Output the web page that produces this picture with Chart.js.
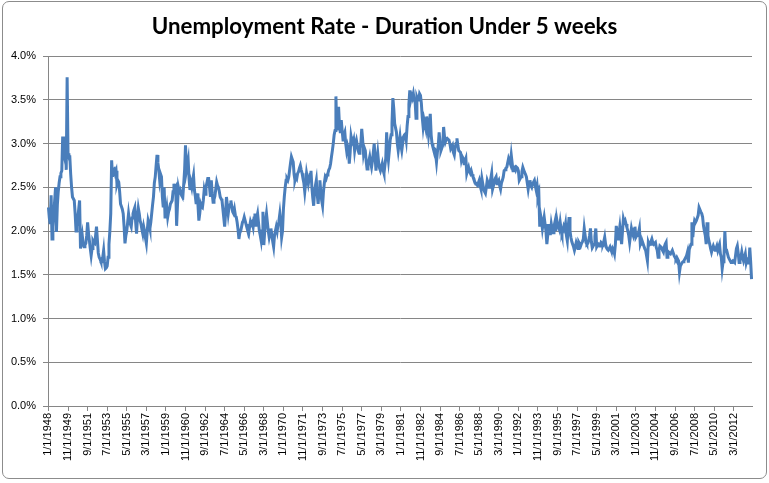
<!DOCTYPE html>
<html>
<head>
<meta charset="utf-8">
<title>Unemployment Rate - Duration Under 5 weeks</title>
<script src="https://cdn.jsdelivr.net/npm/chart.js@4.4.1/dist/chart.umd.min.js"></script>
<style>
  html, body { margin: 0; padding: 0; background: #fff; }
  #wrap { position: relative; width: 769px; height: 483px; }
  #frame { position: absolute; left: 2px; top: 1px; width: 763px; height: 476px;
           border: 1px solid #8c8c8c; border-radius: 7px; pointer-events: none; }
  canvas { position: absolute; left: 0; top: 0; }
</style>
</head>
<body>
<div id="wrap">
  <canvas id="grafico" width="769" height="483"></canvas>
  <div id="frame"></div>
</div>
<script>
// Monthly rate (%), Jan 1948 onward, one line per year
const rate = [
  2.27, 2.15, 2.08, 2.41, 1.91, 2.05, 2.20, 2.35, 2.50, 1.99, 2.30, 2.45, // 1948
  2.55, 2.62, 2.66, 2.69, 3.08, 2.90, 2.85, 3.08, 2.70, 3.76, 2.89, 2.85, // 1949
  2.85, 2.65, 2.50, 2.39, 2.37, 2.35, 2.20, 2.00, 2.05, 2.15, 2.25, 2.35, // 1950
  1.80, 1.88, 1.95, 1.85, 1.82, 1.84, 1.86, 1.95, 2.10, 1.98, 1.89, 1.80, // 1951
  1.72, 1.80, 1.89, 1.87, 1.86, 1.95, 2.05, 1.90, 1.75, 1.70, 1.68, 1.65, // 1952
  1.65, 1.70, 1.78, 1.65, 1.57, 1.58, 1.60, 1.70, 1.85, 2.00, 2.20, 2.81, // 1953
  2.62, 2.70, 2.71, 2.66, 2.69, 2.54, 2.58, 2.56, 2.45, 2.31, 2.28, 2.25, // 1954
  2.20, 2.05, 1.86, 1.95, 2.00, 2.10, 2.20, 2.12, 2.08, 2.05, 2.15, 2.20, // 1955
  2.24, 2.27, 2.10, 1.97, 2.15, 2.26, 2.20, 2.12, 2.08, 2.02, 1.97, 2.05, // 1956
  2.00, 1.92, 1.86, 2.00, 2.12, 2.08, 2.03, 2.10, 2.20, 2.30, 2.39, 2.55, // 1957
  2.62, 2.75, 2.87, 2.78, 2.70, 2.58, 2.65, 2.62, 2.39, 2.27, 2.50, 2.16, // 1958
  2.20, 2.27, 2.16, 2.22, 2.25, 2.31, 2.33, 2.35, 2.45, 2.54, 2.48, 2.50, // 1959
  2.06, 2.30, 2.50, 2.45, 2.47, 2.42, 2.40, 2.39, 2.54, 2.70, 2.98, 2.69, // 1960
  2.75, 2.81, 2.60, 2.47, 2.55, 2.50, 2.58, 2.64, 2.47, 2.40, 2.31, 2.43, // 1961
  2.30, 2.12, 2.20, 2.31, 2.28, 2.27, 2.35, 2.47, 2.42, 2.50, 2.55, 2.60, // 1962
  2.60, 2.50, 2.39, 2.58, 2.43, 2.33, 2.36, 2.40, 2.48, 2.56, 2.52, 2.50, // 1963
  2.45, 2.39, 2.37, 2.35, 2.25, 2.15, 2.05, 2.20, 2.39, 2.30, 2.20, 2.28, // 1964
  2.30, 2.35, 2.28, 2.22, 2.20, 2.25, 2.18, 2.16, 2.10, 2.02, 1.91, 1.98, // 1965
  2.00, 2.05, 2.10, 2.12, 2.16, 2.12, 2.08, 2.04, 2.00, 1.97, 2.05, 2.11, // 1966
  2.08, 2.10, 2.05, 2.15, 2.20, 2.05, 2.15, 2.20, 2.10, 2.00, 1.95, 1.89, // 1967
  2.00, 2.22, 1.84, 2.00, 2.12, 2.20, 2.10, 2.00, 1.93, 1.98, 2.03, 1.95, // 1968
  1.88, 1.82, 1.95, 2.00, 2.05, 2.00, 2.08, 2.12, 2.20, 2.10, 1.93, 2.00, // 1969
  2.25, 2.39, 2.50, 2.58, 2.60, 2.58, 2.62, 2.70, 2.78, 2.85, 2.82, 2.79, // 1970
  2.65, 2.58, 2.62, 2.60, 2.66, 2.68, 2.72, 2.75, 2.70, 2.66, 2.60, 2.55, // 1971
  2.45, 2.55, 2.66, 2.60, 2.54, 2.60, 2.65, 2.69, 2.50, 2.38, 2.29, 2.45, // 1972
  2.52, 2.58, 2.42, 2.31, 2.45, 2.58, 2.45, 2.35, 2.29, 2.45, 2.55, 2.62, // 1973
  2.60, 2.64, 2.66, 2.70, 2.72, 2.77, 2.85, 2.92, 3.00, 3.10, 3.15, 3.54, // 1974
  3.15, 3.30, 3.42, 3.20, 3.12, 3.27, 3.15, 3.04, 3.10, 3.13, 3.00, 2.92, // 1975
  2.98, 2.94, 2.77, 2.90, 3.08, 3.02, 3.00, 3.04, 2.92, 3.00, 3.04, 2.98, // 1976
  2.92, 2.89, 2.95, 3.00, 3.17, 3.05, 2.89, 2.95, 2.92, 2.80, 2.71, 2.78, // 1977
  2.80, 2.85, 2.78, 2.73, 2.80, 2.90, 3.00, 2.85, 2.69, 2.80, 2.89, 2.78, // 1978
  2.72, 2.69, 2.73, 2.77, 2.70, 2.66, 2.75, 2.83, 3.13, 2.90, 2.81, 2.92, // 1979
  3.04, 3.10, 3.23, 3.52, 3.40, 3.23, 3.18, 3.13, 3.00, 2.92, 3.00, 3.08, // 1980
  2.98, 2.92, 3.00, 3.08, 3.10, 3.11, 3.04, 3.20, 3.31, 3.45, 3.61, 3.50, // 1981
  3.55, 3.52, 3.57, 3.50, 3.48, 3.29, 3.53, 3.50, 3.50, 3.57, 3.55, 3.46, // 1982
  3.30, 3.19, 3.27, 3.22, 3.17, 3.31, 3.20, 3.10, 3.20, 3.34, 3.10, 3.00, // 1983
  2.96, 2.95, 2.94, 2.88, 2.79, 2.90, 2.98, 3.13, 3.00, 2.92, 2.95, 2.98, // 1984
  3.19, 3.08, 3.02, 3.05, 3.06, 3.05, 3.04, 3.00, 2.94, 2.96, 2.98, 2.90, // 1985
  2.87, 2.96, 3.00, 3.06, 2.98, 2.92, 2.91, 2.90, 2.81, 2.85, 2.83, 2.77, // 1986
  2.80, 2.83, 2.66, 2.70, 2.73, 2.68, 2.66, 2.69, 2.65, 2.62, 2.60, 2.56, // 1987
  2.55, 2.53, 2.52, 2.55, 2.58, 2.52, 2.48, 2.60, 2.54, 2.48, 2.45, 2.43, // 1988
  2.50, 2.58, 2.55, 2.50, 2.54, 2.60, 2.66, 2.48, 2.52, 2.56, 2.60, 2.62, // 1989
  2.54, 2.56, 2.58, 2.52, 2.48, 2.55, 2.58, 2.62, 2.69, 2.70, 2.72, 2.73, // 1990
  2.78, 2.83, 2.80, 2.77, 2.87, 2.78, 2.69, 2.72, 2.73, 2.70, 2.73, 2.72, // 1991
  2.69, 2.58, 2.60, 2.62, 2.68, 2.73, 2.70, 2.67, 2.65, 2.62, 2.55, 2.48, // 1992
  2.55, 2.58, 2.52, 2.50, 2.54, 2.56, 2.58, 2.52, 2.47, 2.52, 2.39, 2.43, // 1993
  2.05, 2.18, 2.12, 2.03, 2.10, 2.16, 2.08, 2.00, 1.85, 1.95, 2.08, 1.97, // 1994
  1.97, 2.08, 2.02, 1.98, 2.05, 2.10, 2.00, 2.14, 2.08, 2.05, 2.02, 2.10, // 1995
  2.02, 1.97, 2.00, 2.05, 2.02, 2.08, 1.95, 1.89, 2.05, 2.16, 2.00, 1.93, // 1996
  1.88, 1.85, 1.82, 1.78, 1.82, 1.87, 1.84, 1.80, 1.87, 1.85, 1.83, 1.86, // 1997
  1.88, 1.91, 2.03, 1.95, 1.87, 1.85, 1.86, 1.89, 1.95, 2.03, 1.88, 1.81, // 1998
  1.83, 1.85, 1.94, 2.03, 1.82, 1.84, 1.85, 1.83, 1.83, 1.87, 1.86, 1.85, // 1999
  1.88, 1.93, 1.85, 1.81, 1.79, 1.78, 1.80, 1.82, 1.79, 1.76, 1.80, 1.78, // 2000
  1.74, 1.85, 2.06, 1.98, 1.91, 1.97, 2.05, 1.95, 1.85, 2.00, 2.14, 2.10, // 2001
  2.12, 2.08, 2.04, 2.00, 1.95, 1.87, 1.95, 2.03, 1.98, 1.95, 2.02, 2.05, // 2002
  1.93, 1.95, 1.95, 1.98, 2.03, 1.85, 1.88, 1.85, 1.86, 1.83, 1.80, 1.78, // 2003
  1.72, 1.66, 1.87, 1.84, 1.85, 1.88, 1.91, 1.87, 1.85, 1.86, 1.87, 1.81, // 2004
  1.78, 1.70, 1.78, 1.83, 1.82, 1.81, 1.78, 1.76, 1.82, 1.85, 1.87, 1.70, // 2005
  1.72, 1.76, 1.75, 1.74, 1.76, 1.78, 1.75, 1.72, 1.70, 1.68, 1.70, 1.68, // 2006
  1.66, 1.53, 1.60, 1.62, 1.64, 1.65, 1.66, 1.68, 1.70, 1.72, 1.76, 1.64, // 2007
  1.79, 1.82, 1.85, 2.10, 1.93, 2.05, 2.12, 2.10, 2.12, 2.15, 2.18, 2.27, // 2008
  2.27, 2.22, 2.20, 2.16, 2.06, 2.00, 1.95, 1.85, 2.10, 1.95, 1.89, 1.85, // 2009
  1.80, 1.76, 1.80, 1.83, 1.80, 1.78, 1.80, 1.83, 1.78, 1.82, 1.85, 1.74, // 2010
  1.70, 1.57, 1.65, 1.70, 2.00, 1.78, 1.78, 1.74, 1.70, 1.68, 1.66, 1.64, // 2011
  1.65, 1.66, 1.65, 1.64, 1.72, 1.80, 1.83, 1.75, 1.64, 1.66, 1.70, 1.76, // 2012
  1.70, 1.66, 1.70, 1.74, 1.64, 1.68, 1.70, 1.62, 1.81, 1.65, 1.45        // 2013
];

const tickLabels = [
  '1/1/1948', '11/1/1949', '9/1/1951', '7/1/1953', '5/1/1955', '3/1/1957',
  '1/1/1959', '11/1/1960', '9/1/1962', '7/1/1964', '5/1/1966', '3/1/1968',
  '1/1/1970', '11/1/1971', '9/1/1973', '7/1/1975', '5/1/1977', '3/1/1979',
  '1/1/1981', '11/1/1982', '9/1/1984', '7/1/1986', '5/1/1988', '3/1/1990',
  '1/1/1992', '11/1/1993', '9/1/1995', '7/1/1997', '5/1/1999', '3/1/2001',
  '1/1/2003', '11/1/2004', '9/1/2006', '7/1/2008', '5/1/2010', '3/1/2012'
];

const yTicks = [0, 0.5, 1, 1.5, 2, 2.5, 3, 3.5, 4];

// categories: one per month, starting 1/1/1948
const firstYear = 1948;
const months = rate.map((_, i) => (i % 12 + 1) + '/1/' + (firstYear + Math.floor(i / 12)));

const gris = '#868686';
const tickFont = { family: "'Liberation Sans', Arial, sans-serif", size: 11 };

new Chart(document.getElementById('grafico'), {
  type: 'line',
  data: {
    labels: months,
    datasets: [{
      label: 'Under 5 weeks',
      data: rate,
      borderColor: '#4a7ebb',
      borderWidth: 3,
      pointRadius: 0,
      tension: 0,
      fill: false
    }]
  },
  options: {
    responsive: false,
    animation: false,
    // symmetric side padding keeps the title centred on the whole canvas
    layout: { padding: { left: 8.5, right: 8.5, top: 13, bottom: 0 } },
    plugins: {
      legend: { display: false },
      tooltip: { enabled: false },
      title: {
        display: true,
        text: 'Unemployment Rate - Duration Under 5 weeks',
        color: '#000',
        font: { family: "Lato, 'Open Sans', sans-serif", size: 22.3, weight: 'bold' },
        padding: { top: 0, bottom: 16.4 }
      }
    },
    scales: {
      x: {
        type: 'category',
        offset: true,
        grid: {
          drawOnChartArea: false,
          tickLength: 5,
          color: ctx => tickLabels.includes(months[ctx.index]) ? gris : 'rgba(0,0,0,0)'
        },
        border: { color: gris },
        ticks: {
          autoSkip: false,
          maxRotation: 90,
          minRotation: 90,
          padding: 2,
          color: '#000',
          font: tickFont,
          callback: function (v, i) {
            const l = this.getLabelForValue(v);
            return tickLabels.includes(l) ? l : '';
          }
        },
        afterFit: s => { s.height = 77; }
      },
      y: {
        min: 0,
        max: 4,
        afterBuildTicks: s => { s.ticks = yTicks.map(v => ({ value: v })); },
        grid: { color: gris, tickLength: 5 },
        border: { color: gris },
        ticks: {
          padding: 7,
          color: '#000',
          font: tickFont,
          callback: v => v.toFixed(1) + '%'
        },
        afterFit: s => { s.width = 39.5; }
      },
      // empty spacer on the right so the plot ends where the original does
      derecha: {
        position: 'right',
        min: 0,
        max: 4,
        grid: { display: false },
        border: { display: false },
        ticks: { display: false },
        afterFit: s => { s.width = 8.5; }
      }
    }
  }
});
</script>
</body>
</html>
